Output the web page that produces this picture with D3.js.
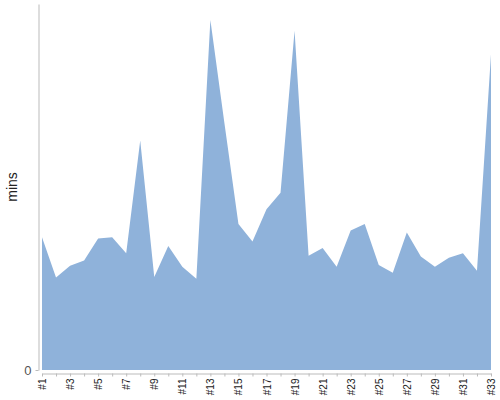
<!DOCTYPE html>
<html><head><meta charset="utf-8">
<script src="https://cdn.jsdelivr.net/npm/d3@7"></script>
<style>body{margin:0;background:#fff;} svg{display:block;font-family:"Liberation Sans",Arial,sans-serif;}</style>
</head><body>
<svg id="c" width="500" height="400"></svg>
<script>
const categories = d3.range(1, 34).map(i => "#" + i);
const values = [36.3,25.3,28.5,29.9,35.9,36.3,31.9,62.7,25.4,33.9,28.2,24.9,95.6,67.5,39.9,35.1,43.9,48.4,92.7,31.2,33.3,28.2,38.1,39.9,28.7,26.6,37.6,31.0,28.2,30.7,31.9,27.1,86.3];
const yTicks = [0];
const yLabel = "mins";

const svg = d3.select("#c");
const x = d3.scalePoint().domain(categories).range([42, 491]);
const y = d3.scaleLinear().domain([0, 100]).range([370, 4]);
const data = categories.map((c, i) => ({c, v: values[i]}));

svg.append("path").datum(data)
  .attr("fill", "#8fb2da")
  .attr("d", d3.area().x(d => x(d.c)).y0(y(0)).y1(d => y(d.v)));

const ya = svg.append("g").attr("transform", "translate(38.5,0)")
  .call(d3.axisLeft(y).tickValues(yTicks).tickSize(3).tickSizeOuter(0).tickPadding(4));
ya.select(".domain").attr("stroke", "#bbb");
ya.selectAll(".tick line").attr("stroke", "#bbb");
ya.selectAll(".tick text").attr("font-size", 13).attr("fill", "#555");

const xa = svg.append("g").attr("transform", "translate(0,373.5)")
  .call(d3.axisBottom(x).tickSize(3).tickSizeOuter(0)
    .tickFormat((d, i) => i % 2 === 0 ? d : ""));
xa.select(".domain").attr("stroke", "#bbb");
xa.selectAll(".tick line").attr("stroke", "#bbb");
xa.selectAll(".tick text")
  .attr("font-size", 10).attr("fill", "#222")
  .attr("transform", "rotate(-90)")
  .attr("text-anchor", "end").attr("dy", "0.35em")
  .attr("x", -5).attr("y", 0);

svg.append("text").attr("transform", "translate(17,187) rotate(-90)")
  .attr("text-anchor", "middle").attr("font-size", 14).attr("fill", "#222")
  .text(yLabel);
</script>
</body></html>
